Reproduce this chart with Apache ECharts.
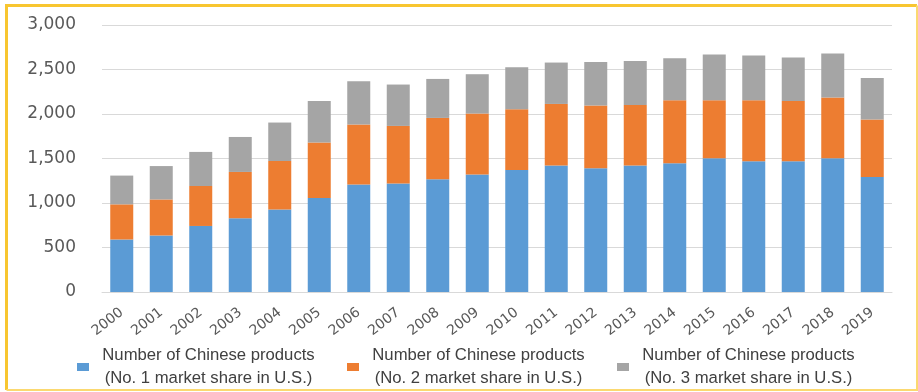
<!DOCTYPE html>
<html>
<head>
<meta charset="utf-8">
<script src="https://cdn.jsdelivr.net/npm/echarts@6/dist/echarts.min.js"></script>
<style>
  html, body { margin: 0; padding: 0; background: #fff; }
  #chart { width: 918px; height: 392px; }
</style>
</head>
<body>
<div id="chart"></div>
<script>
// years on the x axis
const years = ["2000", "2001", "2002", "2003", "2004", "2005", "2006", "2007", "2008", "2009",
  "2010", "2011", "2012", "2013", "2014", "2015", "2016", "2017", "2018", "2019"];

// stacked values
const no1Share = [590, 635, 742, 828, 926, 1057, 1207, 1218, 1267, 1320,
  1371, 1421, 1390, 1421, 1447, 1503, 1469, 1469, 1503, 1293];
const no2Share = [395, 405, 449, 521, 546, 622, 674, 648, 689, 685,
  683, 692, 705, 681, 708, 652, 686, 678, 682, 645];
const no3Share = [323, 375, 383, 393, 432, 468, 487, 465, 438, 442,
  472, 465, 490, 494, 472, 513, 502, 488, 495, 467];

const seriesNames = [
  "Number of Chinese products\n(No. 1 market share in U.S.)",
  "Number of Chinese products\n(No. 2 market share in U.S.)",
  "Number of Chinese products\n(No. 3 market share in U.S.)",
];

const chart = echarts.init(document.getElementById("chart"));

const barSeries = (name, data, color) => ({
  name: name,
  type: "bar",
  stack: "total",
  data: data,
  barWidth: 23,
  itemStyle: { color: color },
});

const option = {
  animation: false,
  color: ["#5b9bd5", "#ed7d31", "#a5a5a5"],
  grid: { left: 102, right: 26, top: 25, bottom: 100, containLabel: false },
  legend: {
    left: 72,
    top: 342,
    itemWidth: 12,
    itemHeight: 8,
    itemGap: 24,
    icon: "rect",
    data: seriesNames,
    formatter: (name) =>
      name.split("\n").map((s) => "{a|" + s + "}").join("\n"),
    textStyle: {
      rich: {
        a: {
          width: 229,
          align: "center",
          fontSize: 16.7,
          lineHeight: 23,
          color: "#404040",
          fontFamily: "Liberation Sans",
        },
      },
    },
  },
  xAxis: {
    type: "category",
    data: years,
    axisTick: { show: false },
    axisLine: { lineStyle: { color: "#d9d9d9" } },
    axisLabel: {
      rotate: 38,
      margin: 19,
      fontSize: 14,
      color: "#595959",
      fontFamily: "DejaVu Sans",
    },
  },
  yAxis: {
    type: "value",
    min: 0,
    max: 3000,
    interval: 500,
    axisLine: { show: false },
    axisTick: { show: false },
    splitLine: { lineStyle: { color: "#d9d9d9", width: 1 } },
    axisLabel: {
      margin: 26,
      fontSize: 17,
      color: "#595959",
      fontFamily: "DejaVu Sans",
      formatter: (v) => v.toLocaleString("en-US"),
    },
  },
  graphic: [
    {
      type: "polyline",
      silent: true,
      shape: { points: [[6.5, 390], [6.5, 5.5], [917, 5.5]] },
      style: { stroke: "#f8c630", lineWidth: 3, fill: null },
    },
    {
      type: "polyline",
      silent: true,
      shape: { points: [[917, 5.5], [917, 390], [6.5, 390]] },
      style: { stroke: "#fbd970", lineWidth: 2, fill: null },
    },
  ],
  series: [
    barSeries(seriesNames[0], no1Share, "#5b9bd5"),
    barSeries(seriesNames[1], no2Share, "#ed7d31"),
    barSeries(seriesNames[2], no3Share, "#a5a5a5"),
  ],
};

chart.setOption(option);
</script>
</body>
</html>
